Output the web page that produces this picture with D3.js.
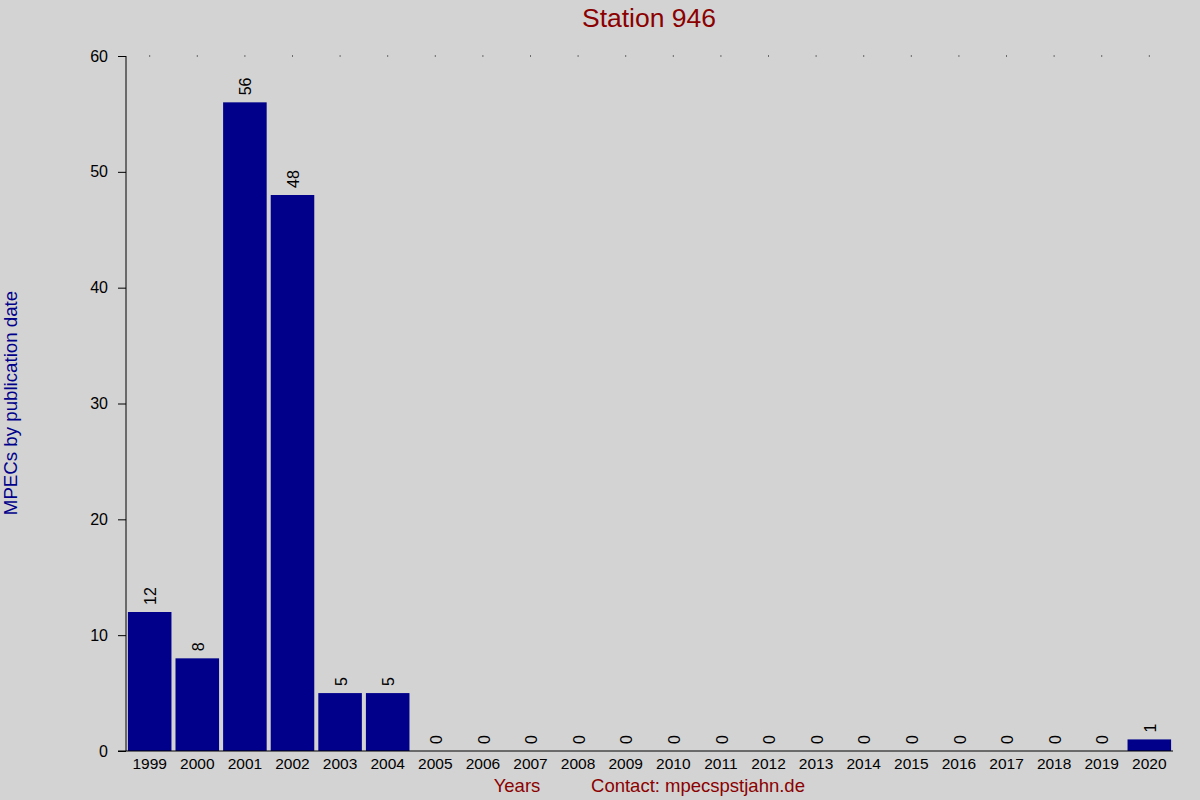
<!DOCTYPE html>
<meta charset="utf-8">
<style>
body { margin: 0; background: #d3d3d3; }
text { font-family: "Liberation Sans", Arial, sans-serif; }
</style>
<body>
<svg class="chart"></svg>
<script src="https://d3js.org/d3.v7.min.js"></script>
<script>
"use strict";

var years = ["1999", "2000", "2001", "2002", "2003", "2004", "2005", "2006", "2007", "2008", "2009",
  "2010", "2011", "2012", "2013", "2014", "2015", "2016", "2017", "2018", "2019", "2020"];
var counts = [12, 8, 56, 48, 5, 5, 0, 0, 0, 0, 0, 0, 0, 0, 0, 0, 0, 0, 0, 0, 0, 1];
var yTicks = [0, 10, 20, 30, 40, 50, 60];

var width = 1200, height = 800;
var margin = {top: 56, right: 27, bottom: 49, left: 126};

var svg = d3.select('.chart')
  .attr('width', width)
  .attr('height', height)
  .style('display', 'block');

svg.append('rect').attr('width', width).attr('height', height).attr('fill', '#d3d3d3');

var x = d3.scaleBand()
  .domain(years)
  .range([margin.left, width - margin.right])
  .paddingInner(0.085)
  .paddingOuter(0.04);

var y = d3.scaleLinear()
  .domain([0, 60])
  .range([height - margin.bottom, margin.top]);

// dots on the top line
svg.append('g').selectAll('rect')
  .data(years)
  .enter().append('rect')
    .attr('x', function (d) { return x(d) + x.bandwidth() / 2 - 0.5; })
    .attr('y', y(60) - 0.5)
    .attr('width', 1).attr('height', 1)
    .attr('fill', '#000');

svg.append('g').selectAll('rect')
  .data(counts)
  .enter().append('rect')
    .attr('x', function (d, i) { return x(years[i]); })
    .attr('y', function (d) { return y(d); })
    .attr('width', x.bandwidth())
    .attr('height', function (d) { return y(0) - y(d); })
    .attr('fill', '#00008b');

svg.append('g').selectAll('text')
  .data(counts)
  .enter().append('text')
    .attr('transform', function (d, i) {
      return 'translate(' + (x(years[i]) + x.bandwidth() / 2 + 1) + ',' + (y(d) - 7) + ') rotate(-90)';
    })
    .attr('dy', '0.35em')
    .style('font-size', '16px')
    .attr('fill', '#000')
    .text(function (d) { return d; });

var yAxis = svg.append('g')
  .attr('transform', 'translate(' + margin.left + ',0)')
  .call(d3.axisLeft(y).tickValues(yTicks).tickSize(8).tickPadding(10));
yAxis.select('.domain').attr('d', 'M0,' + y(60) + 'V' + y(0));
yAxis.selectAll('text').style('font-size', '16px').attr('fill', '#000');

var xAxis = svg.append('g')
  .attr('transform', 'translate(0,' + y(0) + ')')
  .call(d3.axisBottom(x).tickSize(0).tickPadding(7));
xAxis.select('.domain').attr('d', 'M' + (margin.left - 8) + ',0H' + (width - margin.right));
xAxis.selectAll('text').style('font-size', '15.5px').attr('fill', '#000');

svg.append('text')
  .attr('x', 649).attr('y', 27)
  .attr('text-anchor', 'middle')
  .style('font-size', '26.5px')
  .attr('fill', '#8b0000')
  .text('Station 946');

svg.append('text')
  .attr('transform', 'translate(17,403) rotate(-90)')
  .attr('text-anchor', 'middle')
  .style('font-size', '18.7px')
  .attr('fill', '#00008b')
  .text('MPECs by publication date');

svg.append('text')
  .attr('x', 517).attr('y', 792)
  .attr('text-anchor', 'middle')
  .style('font-size', '18.5px')
  .attr('fill', '#8b0000')
  .text('Years');

svg.append('text')
  .attr('x', 698).attr('y', 792)
  .attr('text-anchor', 'middle')
  .style('font-size', '18.5px')
  .attr('fill', '#8b0000')
  .text('Contact: mpecspstjahn.de');
</script>
</body>
